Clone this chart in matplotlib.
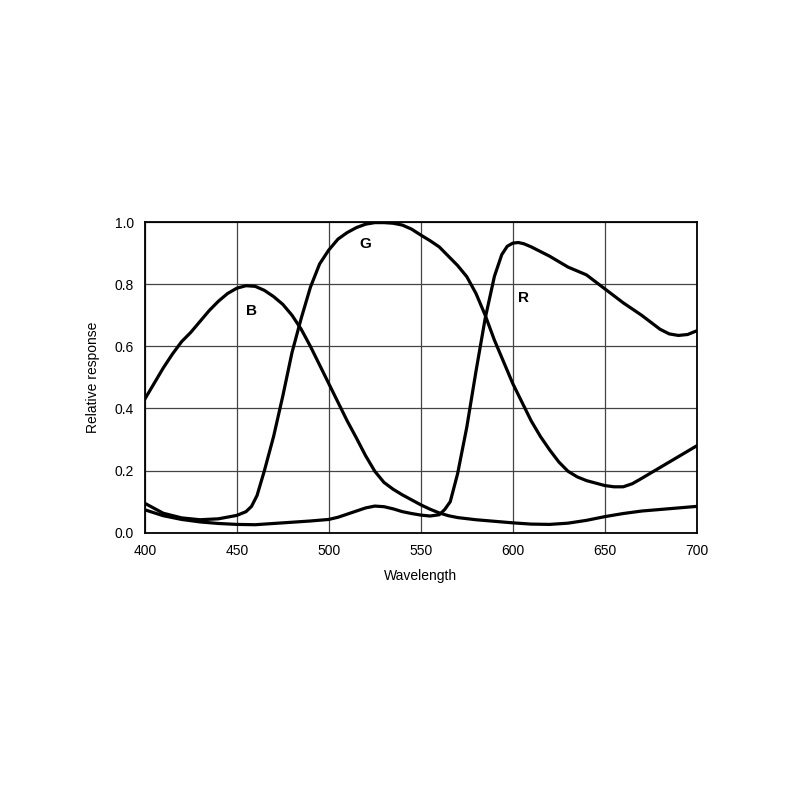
import matplotlib
matplotlib.use("Agg")
import matplotlib.pyplot as plt

plt.rcParams['font.family'] = ['Liberation Sans', 'DejaVu Sans']

# wavelength (nm) / relative response
b_wl = [400, 405, 410, 415, 420, 425, 430, 435, 440, 445, 450, 455, 460, 465, 470,
        475, 480, 485, 490, 495, 500, 505, 510, 515, 520, 525, 530, 535, 540, 545,
        550, 555, 560, 565, 570, 580, 590, 600, 610, 620, 630, 640, 650, 660, 670,
        680, 690, 700]
b_val = [0.43, 0.48, 0.53, 0.575, 0.615, 0.645, 0.68, 0.715, 0.745, 0.77, 0.787, 0.795,
         0.793, 0.78, 0.76, 0.735, 0.70, 0.655, 0.60, 0.54, 0.48, 0.42, 0.36, 0.305,
         0.248, 0.198, 0.162, 0.14, 0.122, 0.106, 0.09, 0.076, 0.064, 0.055, 0.049,
         0.042, 0.037, 0.032, 0.028, 0.027, 0.031, 0.04, 0.052, 0.062, 0.07, 0.075,
         0.08, 0.085]

g_wl = [400, 410, 420, 430, 440, 450, 455, 458, 461, 465, 470, 475, 480, 485, 490,
        495, 500, 505, 510, 515, 520, 525, 530, 535, 540, 545, 550, 555, 560, 565,
        570, 575, 580, 585, 590, 595, 600, 605, 610, 615, 620, 625, 630, 635, 640,
        645, 650, 655, 660, 665, 670, 680, 690, 700]
g_val = [0.095, 0.063, 0.048, 0.042, 0.045, 0.056, 0.068, 0.085, 0.12, 0.20, 0.31,
         0.44, 0.58, 0.69, 0.79, 0.865, 0.91, 0.945, 0.966, 0.982, 0.993, 0.998,
         0.998, 0.996, 0.99, 0.977, 0.958, 0.94, 0.92, 0.89, 0.86, 0.824, 0.77, 0.70,
         0.62, 0.55, 0.48, 0.42, 0.36, 0.31, 0.267, 0.228, 0.198, 0.18, 0.168, 0.16,
         0.152, 0.148, 0.148, 0.158, 0.175, 0.21, 0.245, 0.28]

r_wl = [400, 410, 420, 430, 440, 450, 460, 470, 480, 490, 500, 505, 510, 515, 520,
        525, 530, 535, 540, 545, 550, 555, 560, 563, 566, 570, 575, 580, 585, 590,
        594, 597, 600, 603, 606, 610, 620, 630, 640, 650, 660, 670, 680, 685, 690,
        695, 700]
r_val = [0.074, 0.055, 0.043, 0.035, 0.03, 0.027, 0.026, 0.03, 0.034, 0.038, 0.043,
         0.05, 0.06, 0.07, 0.08, 0.086, 0.084, 0.077, 0.068, 0.062, 0.057, 0.054,
         0.058, 0.075, 0.10, 0.19, 0.34, 0.52, 0.69, 0.825, 0.895, 0.922, 0.932,
         0.934, 0.93, 0.92, 0.89, 0.855, 0.83, 0.785, 0.74, 0.70, 0.655, 0.64, 0.635,
         0.638, 0.65]

labels = ["B", "G", "R"]
label_pos = [(458, 0.714), (520, 0.93), (606, 0.755)]

fig = plt.figure(figsize=(8, 8), dpi=100)
ax = fig.add_axes([0.181, 0.334, 0.690, 0.3885])

for wl, val in [(b_wl, b_val), (g_wl, g_val), (r_wl, r_val)]:
    ax.plot(wl, val, color='black', linewidth=2.3, solid_capstyle='round',
            solid_joinstyle='round')

for lab, (x, y) in zip(labels, label_pos):
    ax.text(x, y, lab, fontsize=11, fontweight='bold', ha='center', va='center')

ax.set_xlim(400, 700)
ax.set_ylim(0, 1.0)
ax.set_xticks(range(400, 701, 50))
ax.set_yticks([0.0, 0.2, 0.4, 0.6, 0.8, 1.0])
ax.set_yticklabels([f"{v:.1f}" for v in [0.0, 0.2, 0.4, 0.6, 0.8, 1.0]])
ax.grid(True, color='#444444', linewidth=0.9)
ax.set_axisbelow(True)
ax.tick_params(length=0, labelsize=10, pad=8)
for s in ax.spines.values():
    s.set_linewidth(1.3)
    s.set_color('black')

ax.set_xlabel("Wavelength", fontsize=10, labelpad=8)
ax.set_ylabel("Relative response", fontsize=10, labelpad=10)

fig.savefig("out.png", dpi=100)
